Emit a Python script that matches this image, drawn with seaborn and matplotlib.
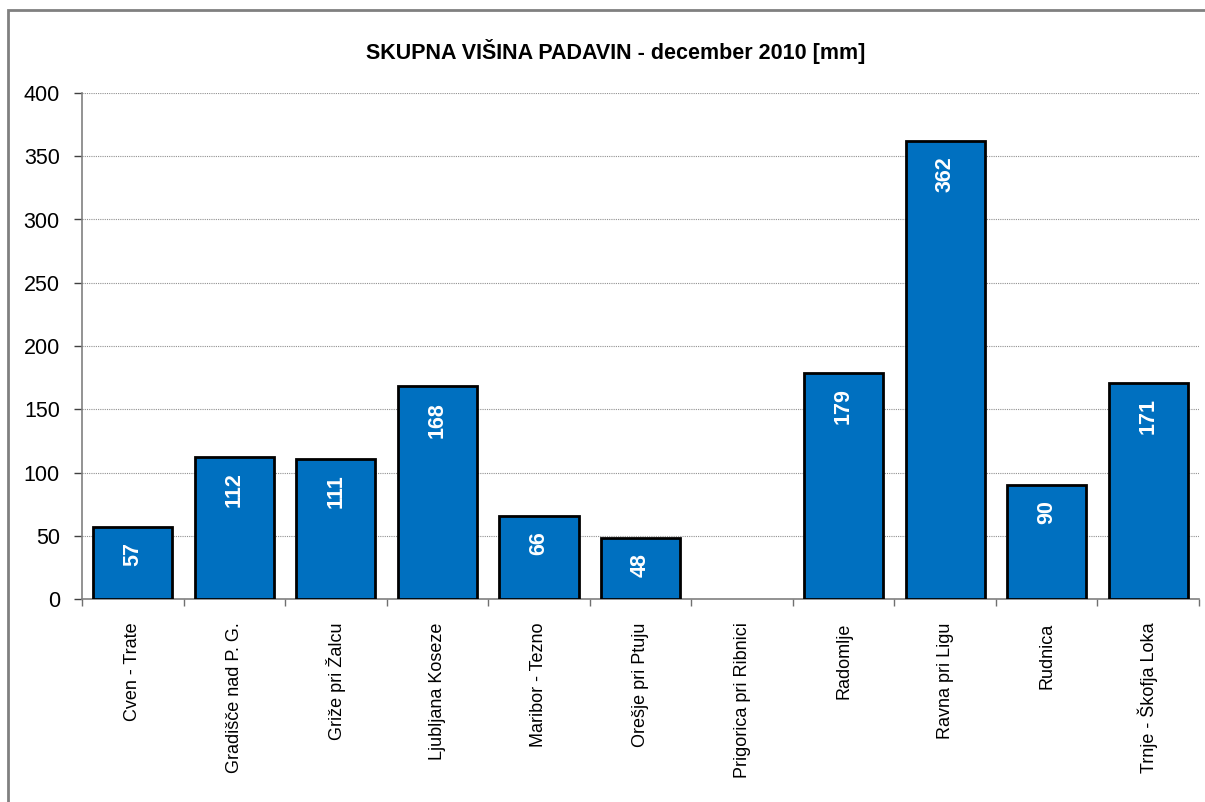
import numpy as np
import pandas as pd
import seaborn as sns
import matplotlib.pyplot as plt
from matplotlib.patches import Rectangle

stations = ["Cven - Trate", "Gradišče nad P. G.", "Griže pri Žalcu", "Ljubljana Koseze",
            "Maribor - Tezno", "Orešje pri Ptuju", "Prigorica pri Ribnici", "Radomlje",
            "Ravna pri Ligu", "Rudnica", "Trnje - Škofja Loka"]
padavine = [57, 112, 111, 168, 66, 48, np.nan, 179, 362, 90, 171]
y_ticks = [0, 50, 100, 150, 200, 250, 300, 350, 400]
naslov = "SKUPNA VIŠINA PADAVIN - december 2010 [mm]"

df = pd.DataFrame({"postaja": stations, "mm": padavine})

sns.set_style("white")
plt.rcParams["font.family"] = ["Liberation Sans", "DejaVu Sans"]
plt.rcParams["text.color"] = "black"
plt.rcParams["xtick.color"] = "black"
plt.rcParams["ytick.color"] = "black"

fig = plt.figure(figsize=(12.05, 8.02), dpi=100)
ax = fig.add_axes([82 / 1205, 1 - 599 / 802, (1199 - 82) / 1205, (599 - 93) / 802])

sns.barplot(data=df, x="postaja", y="mm", order=stations, color="#0070C0",
            saturation=1, edgecolor="black", linewidth=2, width=0.78, ax=ax, zorder=3)

# value labels inside the top of each bar
for bar, v in zip(ax.patches, df["mm"].dropna()):
    ax.annotate(f"{v:.0f}", (bar.get_x() + bar.get_width() / 2, bar.get_height()),
                xytext=(0, -11), textcoords="offset points", rotation=90,
                ha="center", va="top", color="white", fontsize=15.5, fontweight="bold",
                zorder=4)

ax.set_xlim(-0.5, len(stations) - 0.5)
ax.set_ylim(0, 400)
ax.set_yticks(y_ticks)
ax.set_yticklabels([str(t) for t in y_ticks], fontsize=15.5)
ax.yaxis.grid(True, linestyle=(0, (1, 1)), color="#909090", linewidth=0.8, zorder=0)
ax.set_axisbelow(True)
ax.set_xlabel("")
ax.set_ylabel("")
ax.set_xticks(range(len(stations)))
ax.set_xticklabels(stations, rotation=90, fontsize=13)
ax.set_xticks(np.arange(-0.5, len(stations)), minor=True)
ax.tick_params(axis="x", which="major", length=0, pad=17)
ax.tick_params(axis="x", which="minor", length=5, width=1, color="#707070", direction="out")
ax.tick_params(axis="y", length=6, width=1, color="#404040", direction="out", pad=10)
ax.tick_params(axis="y", left=True)
ax.tick_params(axis="x", which="minor", bottom=True)

for s in ["top", "right"]:
    ax.spines[s].set_visible(False)
ax.spines["left"].set_color("#808080")
ax.spines["bottom"].set_color("#808080")
ax.spines["left"].set_linewidth(1.2)
ax.spines["bottom"].set_linewidth(1.2)

fig.text(616 / 1205, 1 - 52 / 802, naslov, ha="center", va="center",
         fontsize=15.5, fontweight="bold")

fig.patches.append(Rectangle((8 / 1205, -0.02), 1.1, 1 - 10 / 802 + 0.02,
                             transform=fig.transFigure, fill=False,
                             edgecolor="#808080", linewidth=2))

fig.savefig("out.png", dpi=100)
